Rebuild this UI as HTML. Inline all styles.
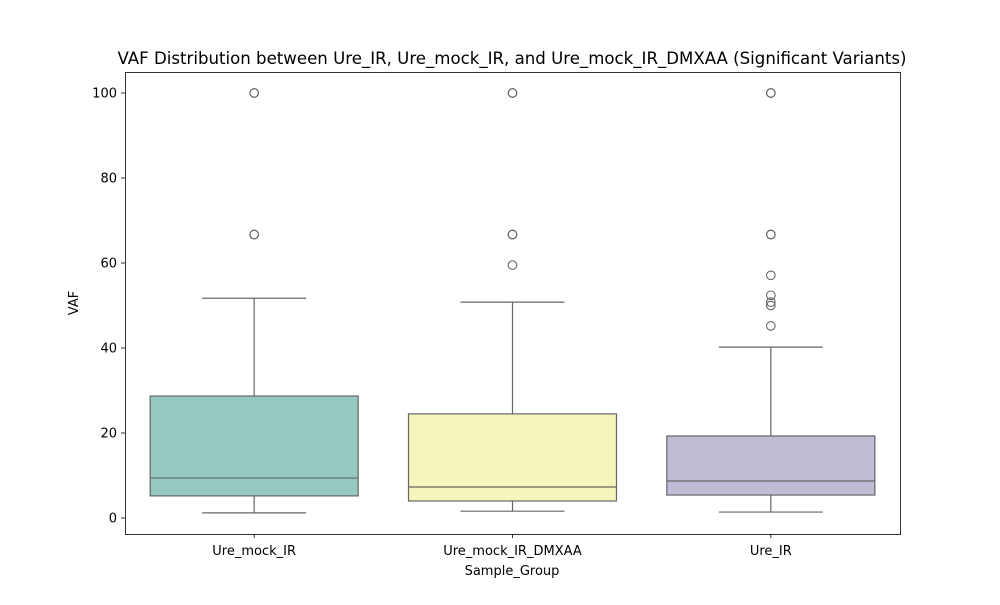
<!DOCTYPE html>
<html><head><meta charset="utf-8"><style>
body{margin:0;background:#fff;}
svg text{font-family:"DejaVu Sans","Liberation Sans",sans-serif;fill:#000;}
</style></head><body>
<svg id="chart" width="1000" height="600" viewBox="0 0 1000 600">
<rect x="0" y="0" width="1000" height="600" fill="#fff"/>
<text x="512" y="64" font-size="16.6" text-anchor="middle">VAF Distribution between Ure_IR, Ure_mock_IR, and Ure_mock_IR_DMXAA (Significant Variants)</text>
<g id="plot"></g>
<rect x="125.5" y="72.5" width="775" height="462" fill="none" stroke="#000" stroke-width="0.8"/>
<text x="512" y="575" font-size="13" text-anchor="middle">Sample_Group</text>
<text x="78" y="303" font-size="13" text-anchor="middle" transform="rotate(-90 78 303)">VAF</text>
</svg>
<script>
const categories=["Ure_mock_IR","Ure_mock_IR_DMXAA","Ure_IR"];
const whiskerLow=[1.2,1.6,1.4];
const q1=[5.2,4.0,5.4];
const median=[9.4,7.3,8.7];
const q3=[28.7,24.5,19.3];
const whiskerHigh=[51.7,50.8,40.2];
const outliers=[[66.7,66.7,100,100],[59.5,66.7,66.7,100,100],[45.2,50,50.8,52.4,57.1,66.7,66.7,100,100]];
const colors=["#96cac1","#f6f5bc","#bfbcd6"];
const yTicks=[0,20,40,60,80,100];
const NS="http://www.w3.org/2000/svg";
const g=document.getElementById('plot');
const y=v=>518-v*4.25;
const x=i=>125+775*(i+0.5)/3;
const bw=208;
function mk(t,a){const e=document.createElementNS(NS,t);for(const k in a)e.setAttribute(k,a[k]);g.appendChild(e);return e;}
yTicks.forEach(t=>{
 const l=mk('line',{x1:121,x2:125,y1:y(t),y2:y(t),stroke:'#000','stroke-width':0.8});
 
 
 const tx=mk('text',{x:117,y:y(t)+4.5,'font-size':13,'text-anchor':'end'});tx.textContent=t;
 
 
});
categories.forEach((c,i)=>{
 const cx=x(i),s='#666';
 const w1=mk('line',{x1:cx,x2:cx,y1:y(q3[i]),y2:y(whiskerHigh[i]),stroke:s,'stroke-width':1.2});
 
 
 const w2=mk('line',{x1:cx,x2:cx,y1:y(q1[i]),y2:y(whiskerLow[i]),stroke:s,'stroke-width':1.2});
 
 
 [whiskerHigh[i],whiskerLow[i]].forEach((v,k)=>{
  const cap=mk('line',{x1:cx-bw/4,x2:cx+bw/4,y1:y(v),y2:y(v),stroke:s,'stroke-width':1.2});
  
  
 });
 const b=mk('rect',{x:cx-bw/2,y:y(q3[i]),width:bw,height:y(q1[i])-y(q3[i]),fill:colors[i],stroke:s,'stroke-width':1.2});
 
 
 const m=mk('line',{x1:cx-bw/2,x2:cx+bw/2,y1:y(median[i]),y2:y(median[i]),stroke:s,'stroke-width':1.2});
 
 
 outliers[i].forEach(v=>{
  const o=mk('circle',{cx:cx,cy:y(v),r:4.3,fill:'none',stroke:s,'stroke-width':1.1});
  
  
 });
 const tk=mk('line',{x1:cx,x2:cx,y1:534,y2:538,stroke:'#000','stroke-width':0.8});
 
 
 const tl=mk('text',{x:cx,y:555,'font-size':13,'text-anchor':'middle'});tl.textContent=c;
 
 
});
</script>
</body></html>
